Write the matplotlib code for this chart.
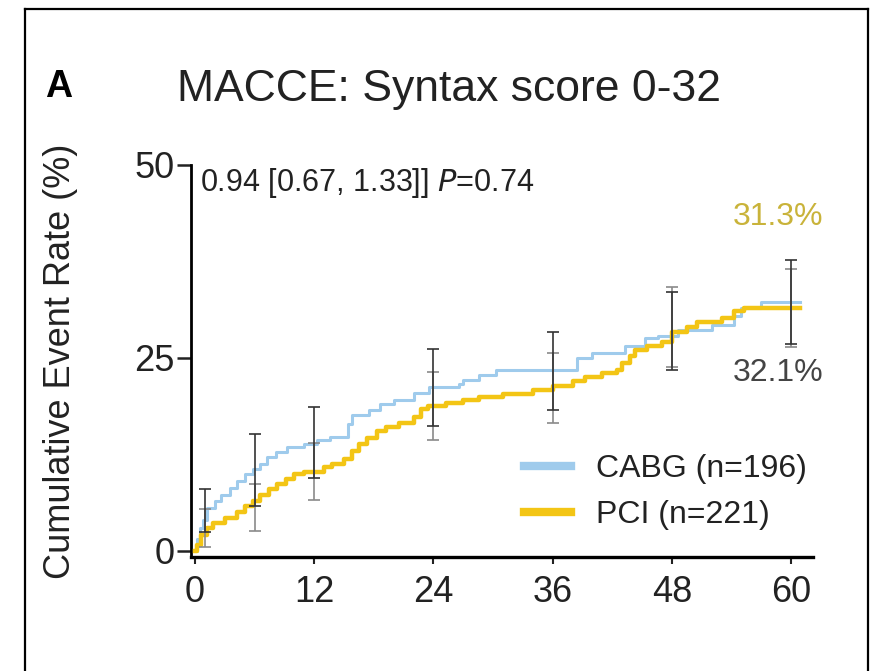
import matplotlib
matplotlib.use('Agg')
import matplotlib.pyplot as plt
from matplotlib.lines import Line2D

plt.rcParams['font.family'] = ['Liberation Sans', 'DejaVu Sans']

# Kaplan-Meier style cumulative event curves (months, %)
cabg_t = [0, 0.2, 0.5, 0.8, 1.2, 2.0, 2.6, 3.5, 4.2, 5.0, 5.8, 6.5, 7.3, 8.2, 9.3,
          11.0, 12.3, 13.6, 15.4, 15.8, 17.5, 18.6, 20.0, 22.0, 23.6, 26.6, 27.0,
          28.6, 30.3, 38.5, 40.0, 43.3, 45.3, 46.6, 48.6, 52.0, 54.3, 55.0, 57.0, 60.9]
cabg_y = [0, 1.5, 3.0, 4.0, 5.5, 6.5, 7.2, 8.2, 9.0, 9.9, 10.6, 11.2, 12.2, 12.8, 13.4,
          13.8, 14.3, 14.8, 16.5, 17.6, 18.2, 19.0, 19.6, 20.4, 21.2, 21.6, 22.1,
          22.8, 23.4, 25.0, 25.6, 26.5, 27.6, 27.8, 28.6, 29.3, 30.4, 31.5, 32.2, 32.2]

pci_t = [0, 0.2, 0.6, 1.2, 1.8, 3.0, 4.2, 5.0, 5.8, 6.5, 7.5, 8.3, 9.2, 10.0, 11.0,
         13.0, 13.8, 15.0, 15.8, 16.5, 17.3, 18.3, 19.2, 20.5, 22.0, 22.7, 23.5,
         25.3, 27.0, 28.6, 31.0, 34.0, 36.0, 38.0, 39.3, 41.0, 42.5, 43.0, 43.8,
         44.3, 45.5, 47.0, 48.0, 49.5, 50.5, 53.0, 54.3, 55.3, 60.9]
pci_y = [0, 0.8, 2.1, 3.0, 3.6, 4.2, 5.0, 5.8, 6.5, 7.2, 8.0, 8.6, 9.3, 9.9, 10.2,
         10.8, 11.3, 11.9, 13.0, 13.9, 14.6, 15.5, 16.0, 16.6, 17.4, 18.4, 18.8,
         19.1, 19.5, 19.9, 20.3, 20.9, 21.4, 22.0, 22.5, 23.0, 23.4, 24.3, 25.2,
         26.0, 26.5, 27.0, 28.4, 29.0, 29.6, 30.2, 31.1, 31.5, 31.5]

# confidence intervals at landmark months
eb_months = [1, 6, 12, 24, 36, 48, 60]
cabg_lo = [2.5, 5.8, 9.5, 16.2, 18.2, 23.4, 26.8]
cabg_hi = [8.0, 15.2, 18.7, 26.2, 28.4, 33.5, 37.7]
pci_lo = [0.5, 2.6, 6.6, 14.4, 16.6, 23.8, 26.4]
pci_hi = [5.4, 8.6, 14.0, 23.2, 25.6, 34.2, 36.5]

x_ticks = [0, 12, 24, 36, 48, 60]
y_ticks = [0, 25, 50]
legend_labels = ['CABG (n=196)', 'PCI (n=221)']

blue = '#9fcbec'
yellow = '#f3c515'

fig = plt.figure(figsize=(8.74, 6.71), dpi=100)
ax = fig.add_axes([0.2185, 0.1699, 0.7117, 0.5842])

ax.step(cabg_t, cabg_y, where='post', color=blue, lw=2.2, zorder=2)
ax.step(pci_t, pci_y, where='post', color=yellow, lw=3.2, zorder=3)

cabg_mid = [(a + b) / 2 for a, b in zip(cabg_lo, cabg_hi)]
cabg_err = [[m - a for m, a in zip(cabg_mid, cabg_lo)], [b - m for m, b in zip(cabg_mid, cabg_hi)]]
pci_mid = [(a + b) / 2 for a, b in zip(pci_lo, pci_hi)]
pci_err = [[m - a for m, a in zip(pci_mid, pci_lo)], [b - m for m, b in zip(pci_mid, pci_hi)]]
ax.errorbar(eb_months, pci_mid, yerr=pci_err, fmt='none', ecolor='#8a8a8a',
            elinewidth=1.2, capsize=4.5, capthick=1.2, zorder=4)
ax.errorbar(eb_months, cabg_mid, yerr=cabg_err, fmt='none', ecolor='#333333',
            elinewidth=1.2, capsize=4.5, capthick=1.2, zorder=5)

ax.set_xlim(-0.4, 62.2)
ax.set_ylim(-0.8, 50)
ax.set_xticks(x_ticks)
ax.set_yticks(y_ticks)
for s in ['top', 'right']:
    ax.spines[s].set_visible(False)
ax.spines['left'].set_linewidth(2.0)
ax.spines['bottom'].set_linewidth(2.4)
ax.tick_params(axis='y', length=10, width=1.8, labelsize=26, pad=2, colors='#222222')
ax.tick_params(axis='x', length=5, width=1.5, labelsize=26, pad=8, colors='#222222')

ax.text(0.5, 47.7, '0.94 [0.67, 1.33]] $\\it{P}$=0.74', fontsize=22, va='center',
        ha='left', color='#222222')
ax.text(63.2, 43.2, '31.3%', fontsize=23, color='#c9b33a', ha='right', va='center')
ax.text(63.2, 23.0, '32.1%', fontsize=23, color='#444444', ha='right', va='center')

handles = [Line2D([], [], color=blue, lw=6), Line2D([], [], color=yellow, lw=6)]
ax.legend(handles, legend_labels, loc='center left', bbox_to_anchor=(0.535, 0.166),
          frameon=False, fontsize=23, handlelength=1.47, handletextpad=0.78,
          labelspacing=0.5, borderpad=0, borderaxespad=0, labelcolor='#222222')

fig.text(0.2025, 0.866, 'MACCE: Syntax score 0-32', fontsize=32, ha='left',
         va='center', color='#222222')
fig.text(0.0515, 0.871, 'A', fontsize=27, fontweight='bold', ha='left', va='center')
fig.text(0.069, 0.462, 'Cumulative Event Rate (%)', fontsize=26, rotation=90,
         ha='center', va='center', color='#222222')

# panel border, open at the bottom
x0, x1, yt = 25 / 874, 868 / 874, 1 - 9 / 671
for xs, ys in [([x0, x0], [-0.1, yt]), ([x0, x1], [yt, yt]), ([x1, x1], [yt, -0.1])]:
    fig.add_artist(Line2D(xs, ys, transform=fig.transFigure, color='black', lw=1.6))

fig.savefig('out.png', dpi=100)
